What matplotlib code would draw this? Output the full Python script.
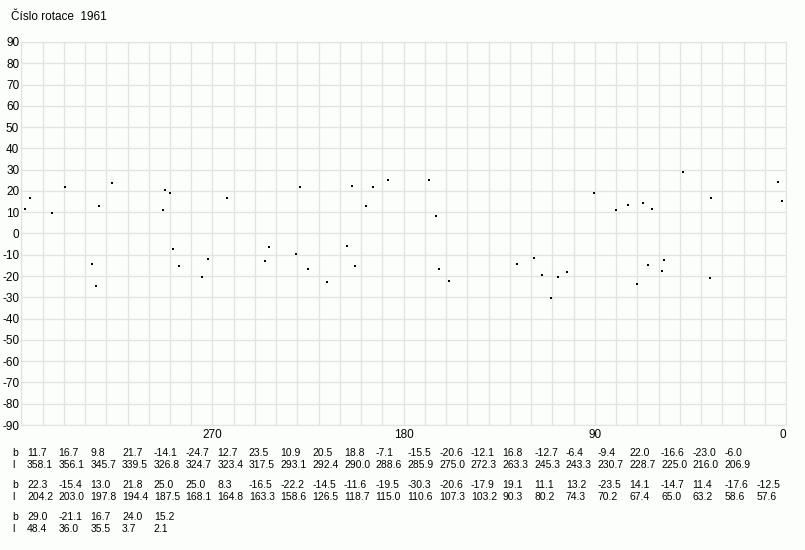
import matplotlib
matplotlib.use("Agg")
import matplotlib.pyplot as plt

plt.rcParams["axes.unicode_minus"] = False
plt.rcParams["font.family"] = ["Liberation Sans", "DejaVu Sans"]

# rotation 1961: latitude b and longitude l of each point
b = [11.7, 16.7, 9.8, 21.7, -14.1, -24.7, 12.7, 23.5, 10.9, 20.5, 18.8, -7.1,
     -15.5, -20.6, -12.1, 16.8, -12.7, -6.4, -9.4, 22.0, -16.6, -23.0, -6.0,
     22.3, -15.4, 13.0, 21.8, 25.0, 25.0, 8.3, -16.5, -22.2, -14.5, -11.6, -19.5,
     -30.3, -20.6, -17.9, 19.1, 11.1, 13.2, -23.5, 14.1, -14.7, 11.4, -17.6, -12.5,
     29.0, -21.1, 16.7, 24.0, 15.2]
l = [358.1, 356.1, 345.7, 339.5, 326.8, 324.7, 323.4, 317.5, 293.1, 292.4, 290.0, 288.6,
     285.9, 275.0, 272.3, 263.3, 245.3, 243.3, 230.7, 228.7, 225.0, 216.0, 206.9,
     204.2, 203.0, 197.8, 194.4, 187.5, 168.1, 164.8, 163.3, 158.6, 126.5, 118.7, 115.0,
     110.6, 107.3, 103.2, 90.3, 80.2, 74.3, 70.2, 67.4, 65.0, 63.2, 58.6, 57.6,
     48.4, 36.0, 35.5, 3.7, 2.1]
table_rows = [23, 24, 5]
x_labels = [270, 180, 90, 0]
title = "Číslo rotace  1961"

bg = "#fcfefc"
grid_c = "#e3e3e3"
W, H = 805, 550

fig = plt.figure(figsize=(W / 100, H / 100), dpi=100, facecolor=bg)
ax = fig.add_axes([21.3 / W, 1 - 425 / H, (786 - 21.3) / W, (425 - 42) / H], facecolor=bg)

ax.plot(l, b, linestyle="none", marker="s", markersize=1.9, color="black", markeredgewidth=0)

ax.set_xlim(360, 0)
ax.set_ylim(-90, 90)
ax.set_xticks(range(0, 361, 10), minor=True)
ax.set_xticks(x_labels)
ax.set_xticklabels([str(v) for v in x_labels])
ax.set_yticks(range(-90, 91, 10))
ax.grid(True, which="both", color=grid_c, linewidth=1)
for s in ax.spines.values():
    s.set_color(grid_c)
ax.tick_params(which="both", length=0, labelsize=8.5, pad=1.5)
ax.tick_params(axis="x", pad=3)
ax.get_xticklabels()[-1].set_horizontalalignment("right")

fig.text(11 / W, 1 - 17 / H, title, fontsize=8.5, va="center", ha="left")

# table of values under the chart
tfont = dict(fontsize=7.5, va="center")
start = 0
for r, n in enumerate(table_rows):
    yb = 453 + r * 32
    yl = yb + 12
    fig.text(12 / W, 1 - yb / H, "b", **tfont)
    fig.text(12 / W, 1 - yl / H, "l", **tfont)
    for i in range(n):
        x = (27 + i * 31.7) / W
        fig.text(x, 1 - yb / H, f"{b[start + i]:.1f}", **tfont)
        fig.text(x, 1 - yl / H, f"{l[start + i]:.1f}", **tfont)
    start += n

fig.savefig("out.png", dpi=100, facecolor=bg)
